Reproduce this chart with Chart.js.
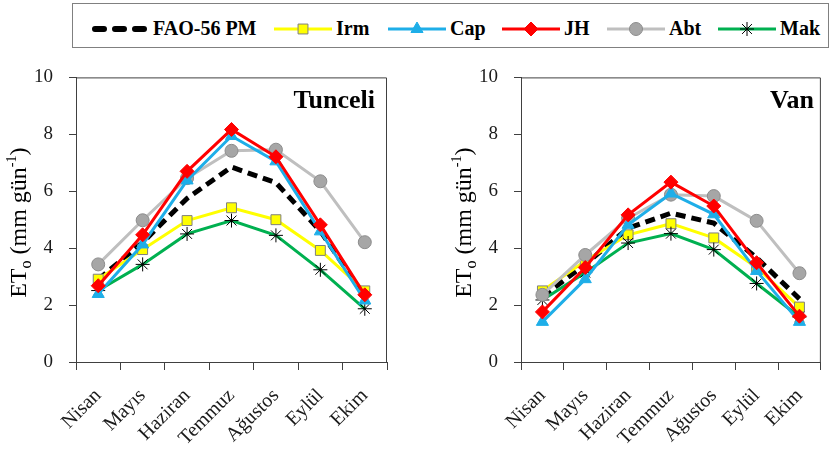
<!DOCTYPE html>
<html>
<head>
<meta charset="utf-8">
<script src="https://cdn.jsdelivr.net/npm/chart.js@4/dist/chart.umd.min.js"></script>
<style>
  body { margin: 0; background: #fff; width: 831px; height: 452px; position: relative; overflow: hidden; font-family: "Liberation Serif", "Times New Roman", serif; }
  #legend { position: absolute; left: 72px; top: 3px; width: 757px; height: 45px; border: 1px solid #808080; box-sizing: border-box; }
  .item { position: absolute; top: 3px; height: 100%; display: flex; align-items: center; }
  .item span { font-weight: bold; font-size: 20px; color: #000; margin-left: 4px; }
  #c1 { position: absolute; left: 0; top: 50px; }
  #c2 { position: absolute; left: 420px; top: 50px; }
</style>
</head>
<body>
<div id="legend"></div>
<canvas id="c1" width="400" height="402"></canvas>
<canvas id="c2" width="411" height="402"></canvas>
<script>
const aylar = ['Nisan', 'Mayıs', 'Haziran', 'Temmuz', 'Ağustos', 'Eylül', 'Ekim'];
const yTicks = [0, 2, 4, 6, 8, 10];
const yontemler = ['FAO-56 PM', 'Irm', 'Cap', 'JH', 'Abt', 'Mak'];

// Tunceli
const tunceliFao = [2.9, 4.2, 5.75, 6.85, 6.3, 4.6, 2.3];
const tunceliIrm = [2.91, 3.95, 4.97, 5.42, 5.0, 3.92, 2.5];
const tunceliCap = [2.39, 4.13, 6.38, 7.94, 7.05, 4.59, 2.16];
const tunceliJH  = [2.68, 4.47, 6.7, 8.17, 7.21, 4.82, 2.36];
const tunceliAbt = [3.43, 4.98, 6.46, 7.42, 7.46, 6.35, 4.21];
const tunceliMak = [2.51, 3.43, 4.5, 4.97, 4.45, 3.24, 1.87];

// Van
const vanFao = [2.3, 3.43, 4.7, 5.23, 4.88, 3.66, 2.22];
const vanIrm = [2.5, 3.55, 4.47, 4.86, 4.36, 3.32, 1.93];
const vanCap = [1.41, 2.91, 4.82, 5.92, 5.19, 3.2, 1.41];
const vanJH  = [1.76, 3.32, 5.17, 6.32, 5.48, 3.49, 1.61];
const vanAbt = [2.36, 3.76, 5.05, 5.88, 5.83, 4.96, 3.12];
const vanMak = [2.18, 3.14, 4.18, 4.51, 3.95, 2.76, 1.58];

const serif = '"Liberation Serif", "Times New Roman", serif';

const stiller = [
  { borderColor: '#000000', borderWidth: 5, borderDash: [10, 6], pointRadius: 0, order: 5 },
  { borderColor: '#ffff00', borderWidth: 3, pointStyle: 'rect', pointRadius: 7, pointBackgroundColor: '#ffff00', pointBorderColor: '#7f7f7f', pointBorderWidth: 1, order: 4 },
  { borderColor: '#1eaee8', borderWidth: 3, pointStyle: 'triangle', pointRadius: 7, pointBackgroundColor: '#1eaee8', pointBorderColor: '#1eaee8', pointBorderWidth: 1, order: 1 },
  { borderColor: '#ff0000', borderWidth: 3, pointStyle: 'rectRot', pointRadius: 7, pointBackgroundColor: '#ff0000', pointBorderColor: '#ff0000', pointBorderWidth: 1, order: 0 },
  { borderColor: '#bfbfbf', borderWidth: 3, pointStyle: 'circle', pointRadius: 6.5, pointBackgroundColor: '#a6a6a6', pointBorderColor: '#8c8c8c', pointBorderWidth: 1, order: 2 },
  { borderColor: '#00b050', borderWidth: 3, pointStyle: 'star', pointRadius: 7, pointBackgroundColor: '#000', pointBorderColor: '#000', pointBorderWidth: 1, order: 3 }
];

// y ekseni basligi: ET0 (mm gün-1), alt/ust simgeli
const eksenBasligi = {
  id: 'eksenBasligi',
  afterDraw(chart) {
    const ctx = chart.ctx;
    const a = chart.chartArea;
    const parcalar = [
      { t: 'ET', s: 24, dy: 0 },
      { t: 'o', s: 16, dy: 5 },
      { t: ' (mm gün', s: 24, dy: 0 },
      { t: '-1', s: 14, dy: -10 },
      { t: ')', s: 24, dy: 0 }
    ];
    ctx.save();
    let toplam = 0;
    parcalar.forEach(p => { ctx.font = p.s + 'px ' + serif; p.w = ctx.measureText(p.t).width; toplam += p.w; });
    ctx.translate(a.left - 50, (a.top + a.bottom) / 2 + 3);
    ctx.rotate(-Math.PI / 2);
    ctx.fillStyle = '#000';
    ctx.textBaseline = 'alphabetic';
    let x = -toplam / 2;
    parcalar.forEach(p => {
      ctx.font = p.s + 'px ' + serif;
      ctx.fillText(p.t, x, p.dy);
      x += p.w;
    });
    ctx.restore();
  }
};

// cizim alani cercevesi ve il adi
const cerceve = {
  id: 'cerceve',
  afterDraw(chart, args, opts) {
    const ctx = chart.ctx;
    const a = chart.chartArea;
    ctx.save();
    ctx.strokeStyle = '#404040';
    ctx.lineWidth = 1;
    ctx.beginPath();
    ctx.moveTo(a.left, a.top + 0.5);
    ctx.lineTo(a.right - 0.5, a.top + 0.5);
    ctx.lineTo(a.right - 0.5, a.bottom);
    ctx.stroke();
    ctx.font = 'bold 26px ' + serif;
    ctx.fillStyle = '#000';
    ctx.textAlign = 'right';
    ctx.fillText(opts.il, a.right - opts.sag, a.top + 31);
    ctx.restore();
  }
};

function grafik(id, il, seriler, solGenislik, sagBosluk, ilSag) {
  const ctx = document.getElementById(id).getContext('2d');
  return new Chart(ctx, {
    type: 'line',
    data: {
      labels: aylar,
      datasets: seriler.map((veri, i) => Object.assign({
        label: yontemler[i],
        data: veri,
        fill: false,
        tension: 0,
        borderCapStyle: 'butt'
      }, stiller[i]))
    },
    options: {
      responsive: false,
      animation: false,
      layout: { padding: { top: 24, right: sagBosluk, left: 0, bottom: 0 } },
      plugins: {
        legend: { display: false },
        tooltip: { enabled: false },
        cerceve: { il: il, sag: ilSag }
      },
      scales: {
        x: {
          offset: true,
          grid: { offset: true, drawOnChartArea: false, drawTicks: true, tickLength: 8, color: '#404040' },
          border: { color: '#404040', width: 1 },
          ticks: { maxRotation: 45, minRotation: 45, color: '#1a1a1a', padding: 14, font: { family: serif, size: 20 } },
          afterFit(s) { s.height = 90; }
        },
        y: {
          min: 0,
          max: 10,
          afterBuildTicks(s) { s.ticks = yTicks.map(v => ({ value: v })); },
          grid: { drawOnChartArea: false, drawTicks: true, tickLength: 7, color: '#404040' },
          border: { color: '#404040', width: 1 },
          ticks: { color: '#1a1a1a', padding: 16, font: { family: serif, size: 19 } },
          afterFit(s) { s.width = solGenislik; }
        }
      }
    },
    plugins: [eksenBasligi, cerceve]
  });
}

grafik('c1', 'Tunceli', [tunceliFao, tunceliIrm, tunceliCap, tunceliJH, tunceliAbt, tunceliMak], 76, 13, 12);
grafik('c2', 'Van', [vanFao, vanIrm, vanCap, vanJH, vanAbt, vanMak], 101, 2, 7);

// lejant
const lejantX = [18, 201, 315, 429, 534, 645];
const lejant = document.getElementById('legend');
yontemler.forEach((ad, i) => {
  const st = stiller[i];
  const d = document.createElement('div');
  d.className = 'item';
  d.style.left = lejantX[i] + 'px';
  const cv = document.createElement('canvas');
  cv.width = 58; cv.height = 20;
  const c = cv.getContext('2d');
  c.strokeStyle = st.borderColor;
  c.lineWidth = st.borderWidth;
  if (i === 0) {
    c.setLineDash([9, 11]); c.lineCap = 'round'; c.lineWidth = 6;
    c.beginPath(); c.moveTo(4, 10); c.lineTo(58, 10); c.stroke();
    c.setLineDash([]);
  } else {
    c.beginPath(); c.moveTo(0, 10); c.lineTo(58, 10); c.stroke();
  }
  if (st.pointRadius) {
    c.fillStyle = st.pointBackgroundColor;
    c.strokeStyle = st.pointBorderColor;
    c.lineWidth = 1;
    Chart.helpers.drawPoint(c, { pointStyle: st.pointStyle, radius: st.pointRadius, rotation: 0, borderWidth: 1 }, 29, 10);
  }
  d.appendChild(cv);
  const s = document.createElement('span');
  s.textContent = ad;
  d.appendChild(s);
  lejant.appendChild(d);
});
</script>
</body>
</html>
